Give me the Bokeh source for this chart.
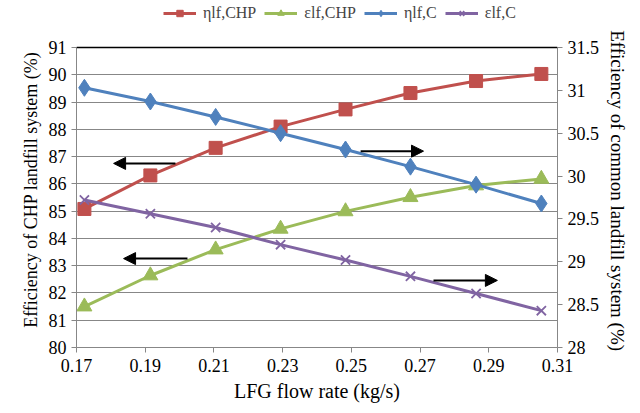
from bokeh.plotting import figure
from bokeh.models import (LinearAxis, Range1d, FixedTicker, CustomJSTickFormatter,
                          Legend, LegendItem, Span, Arrow, NormalHead)
from bokeh.embed import file_html
from bokeh.resources import INLINE

# ---- data ----
flow = [0.1723, 0.1915, 0.2105, 0.2294, 0.2483, 0.2672, 0.2863, 0.3053]
eta_chp = [85.08, 86.31, 87.32, 88.10, 88.73, 89.33, 89.77, 90.03]
eps_chp = [81.50, 82.64, 83.59, 84.35, 84.99, 85.51, 85.94, 86.18]
eta_c = [31.03, 30.87, 30.69, 30.50, 30.31, 30.11, 29.90, 29.68]
eps_c = [29.72, 29.56, 29.40, 29.20, 29.02, 28.83, 28.63, 28.43]

x_ticks = [0.17, 0.19, 0.21, 0.23, 0.25, 0.27, 0.29, 0.31]
left_ticks = list(range(80, 92))
right_ticks = [28, 28.5, 29, 29.5, 30, 30.5, 31, 31.5]

# arrows: (x_start, x_end, y) ; left-axis units
arrows = [
    (0.1988, 0.1808, 86.75),
    (0.2023, 0.1837, 83.26),
    (0.2527, 0.2710, 87.20),
    (0.2739, 0.2925, 82.46),
]

RED = "#C0504D"
GREEN = "#9BBB59"
BLUE = "#4F81BD"
PURPLE = "#8064A2"
GRID = "#878787"
FONT = "'Liberation Serif'"
PAD = "\u00a0" * 7   # pushes the rotated titles a little downwards

# frame: 481 x 347 px; the axes occupy the lower 300 px, the legend sits above them
LEFT_MIN, LEFT_MAX = 80, 91
RIGHT_MIN, RIGHT_MAX = 28, 31.5
FRAME_H, AXIS_H = 347, 300
left_end = LEFT_MIN + (LEFT_MAX - LEFT_MIN) * FRAME_H / AXIS_H
right_end = RIGHT_MIN + (RIGHT_MAX - RIGHT_MIN) * FRAME_H / AXIS_H

p = figure(width=632, height=405, output_backend="svg", toolbar_location=None,
           x_range=Range1d(0.17, 0.31), y_range=Range1d(LEFT_MIN, left_end),
           min_border_left=76, min_border_right=75, min_border_top=0,
           min_border_bottom=58)
p.extra_y_ranges = {"right": Range1d(RIGHT_MIN, right_end)}
p.outline_line_color = None
p.background_fill_color = "white"
p.border_fill_color = "white"


def style_axis(ax, label_size="18px"):
    ax.axis_line_color = GRID
    ax.major_tick_line_color = GRID
    ax.minor_tick_line_color = None
    ax.major_tick_out = 5
    ax.major_tick_in = 0
    ax.major_label_text_font = FONT
    ax.major_label_text_font_size = "18px"
    ax.major_label_text_color = "black"
    ax.axis_label_text_font = FONT
    ax.axis_label_text_font_size = label_size
    ax.axis_label_text_font_style = "normal"
    ax.axis_label_text_color = "black"


style_axis(p.xaxis[0], "20px")
style_axis(p.yaxis[0], "18px")
p.xaxis[0].ticker = FixedTicker(ticks=x_ticks)
p.xaxis[0].formatter = CustomJSTickFormatter(code="return tick.toFixed(2)")
p.xaxis[0].axis_label = "LFG flow rate (kg/s)"
p.xaxis[0].major_label_standoff = 6
p.yaxis[0].ticker = FixedTicker(ticks=left_ticks)
p.yaxis[0].bounds = (LEFT_MIN, LEFT_MAX)
p.yaxis[0].axis_label = "Efficiency of CHP landfill system (%)" + PAD

rax = LinearAxis(y_range_name="right", ticker=FixedTicker(ticks=right_ticks),
                 formatter=CustomJSTickFormatter(code="return String(Math.round(tick*10)/10)"),
                 axis_label=PAD + "Efficiency of common landfill system (%)",
                 bounds=(RIGHT_MIN, RIGHT_MAX))
style_axis(rax, "19px")
p.add_layout(rax, "right")

p.xgrid.grid_line_color = None
p.ygrid.grid_line_color = GRID
p.ygrid.grid_line_width = 1

p.add_layout(Span(location=LEFT_MAX, dimension="width", line_color="black", line_width=1.5))

# series
l1 = p.line(flow, eta_chp, line_color=RED, line_width=3)
m1 = p.scatter(flow, eta_chp, marker="square", size=13, fill_color=RED, line_color=RED)
l2 = p.line(flow, eps_chp, line_color=GREEN, line_width=3)
m2 = p.scatter(flow, eps_chp, marker="triangle", size=15, fill_color=GREEN, line_color=GREEN)
l3 = p.line(flow, eta_c, line_color=BLUE, line_width=3, y_range_name="right")
m3 = p.scatter(flow, eta_c, marker="diamond", size=17, fill_color=BLUE, line_color=BLUE,
               y_range_name="right")
l4 = p.line(flow, eps_c, line_color=PURPLE, line_width=3, y_range_name="right")
m4 = p.scatter(flow, eps_c, marker="x", size=13, line_color=PURPLE, line_width=1.8,
               y_range_name="right")

for xs, xe, yy in arrows:
    p.add_layout(Arrow(x_start=xs, x_end=xe, y_start=yy, y_end=yy, line_color="black",
                       line_width=2,
                       end=NormalHead(size=12, fill_color="black", line_color="black")))

legend = Legend(items=[
    LegendItem(label="ηlf,CHP", renderers=[l1, m1]),
    LegendItem(label="εlf,CHP", renderers=[l2, m2]),
    LegendItem(label="ηlf,C", renderers=[l3, m3]),
    LegendItem(label="εlf,C", renderers=[l4, m4]),
], orientation="horizontal", location=(87, 325))
legend.label_text_font = FONT
legend.label_text_font_size = "16px"
legend.border_line_color = None
legend.background_fill_alpha = 0
legend.glyph_width = 33
legend.glyph_height = 16
legend.label_standoff = 7
legend.spacing = 8
legend.padding = 0
legend.margin = 0
p.add_layout(legend)

open("out.html", "w").write(file_html(p, INLINE))
